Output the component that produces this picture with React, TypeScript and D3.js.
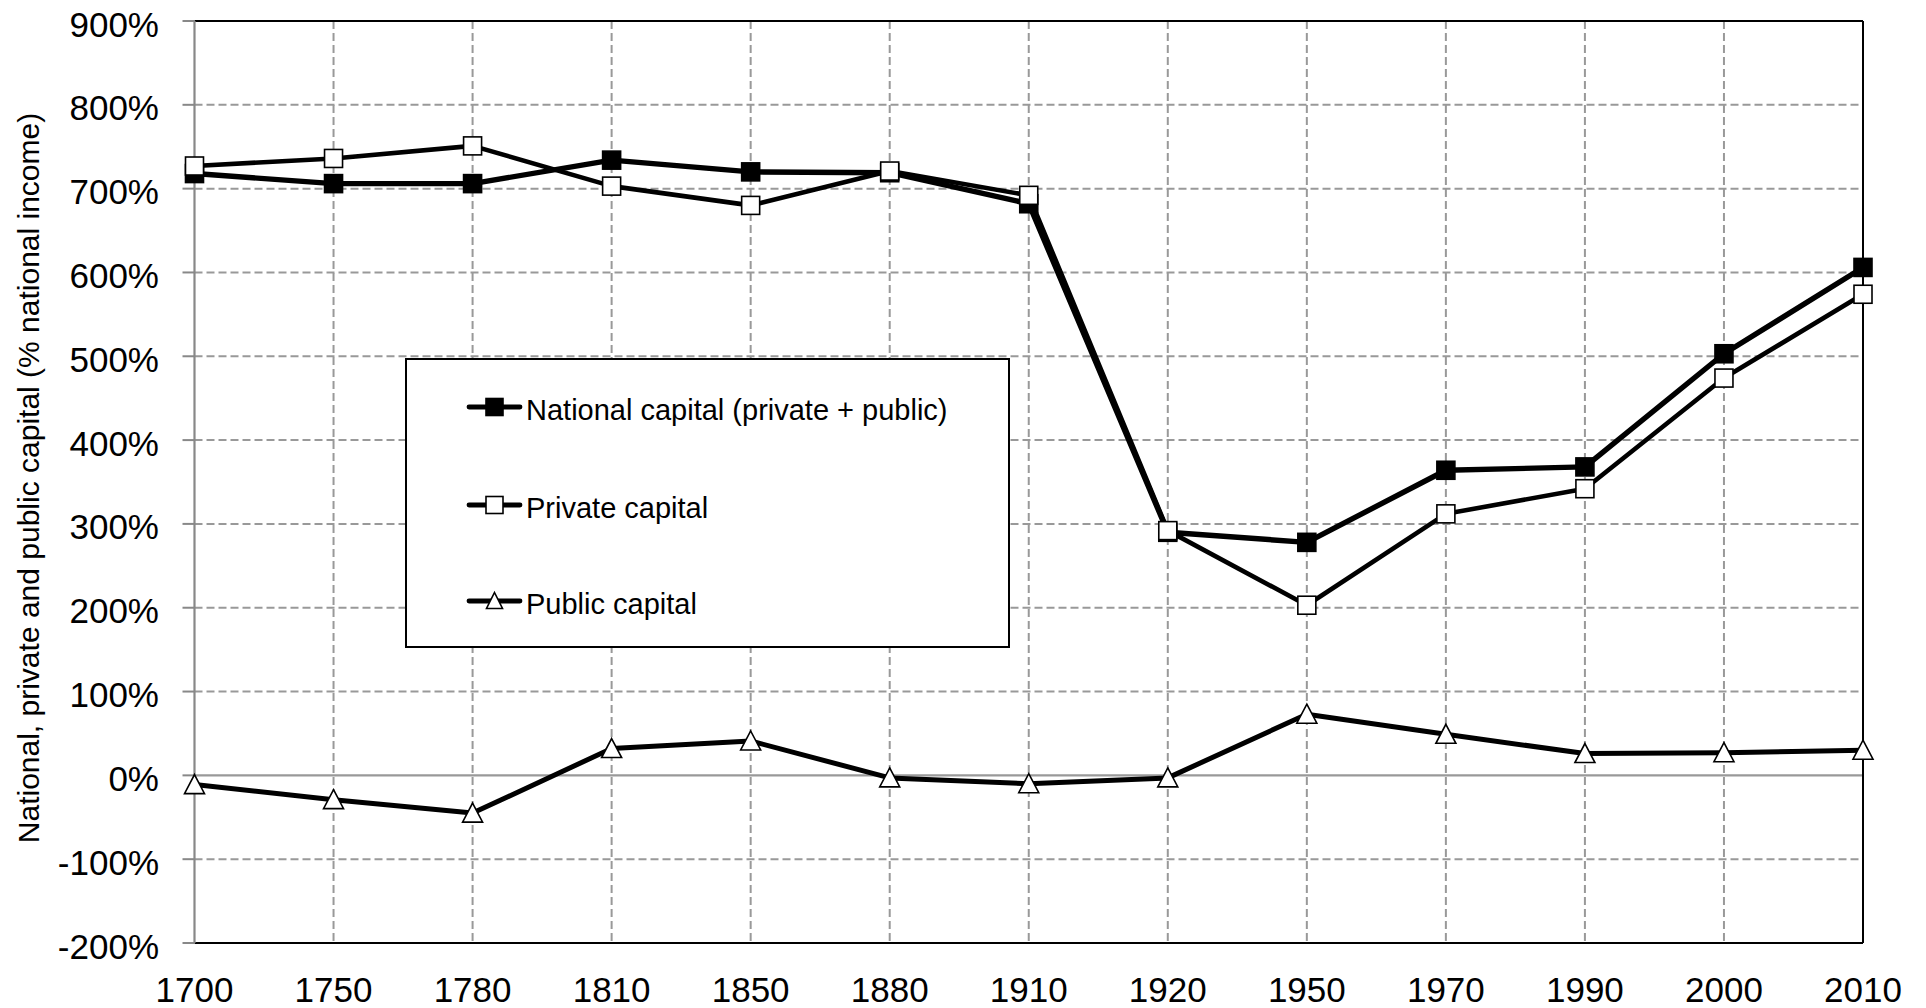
import React from "react";
import * as d3 from "d3";

const years = ["1700", "1750", "1780", "1810", "1850", "1880", "1910", "1920", "1950", "1970", "1990", "2000", "2010"];
const nationalCapital = [718, 706, 706, 734, 720, 719, 682, 290, 278, 364, 368, 503, 606];
const privateCapital = [727, 736, 751, 703, 680, 721, 692, 292, 203, 312, 342, 474, 574];
const publicCapital = [-11, -29, -45, 32, 41, -3, -10, -3, 73, 49, 26, 27, 30];
const yTicks = [-200, -100, 0, 100, 200, 300, 400, 500, 600, 700, 800, 900];
const legendLabels = ["National capital (private + public)", "Private capital", "Public capital"];
const yTitle = "National, private and public capital (% national income)";

const W = 1926;
const H = 1008;
const left = 194.5;
const right = 1863;
const top = 21;
const bottom = 943;
const FONT = "'Liberation Sans', Arial, sans-serif";
const GRID = "#999999";

function Square({ x, y, filled, size = 18 }: { x: number; y: number; filled: boolean; size?: number }) {
  return (
    <rect
      x={x - size / 2}
      y={y - size / 2}
      width={size}
      height={size}
      fill={filled ? "#000" : "#fff"}
      stroke="#000"
      strokeWidth={1.6}
    />
  );
}

function Triangle({ x, y, w = 20, h = 18 }: { x: number; y: number; w?: number; h?: number }) {
  const p = `${x},${y - h / 2 - 1} ${x + w / 2},${y + h / 2} ${x - w / 2},${y + h / 2}`;
  return <polygon points={p} fill="#fff" stroke="#000" strokeWidth={1.6} strokeLinejoin="miter" />;
}

export default function App() {
  const x = d3.scalePoint<string>().domain(years).range([left, right]);
  const y = d3.scaleLinear().domain([-200, 900]).range([bottom, top]);

  const line = d3
    .line<number>()
    .x((_, i) => x(years[i]) as number)
    .y((d) => y(d));

  const legendRows = [407, 505, 601];

  return (
    <svg
      width={W}
      height={H}
      style={{ position: "absolute", left: 0, top: 0, display: "block", background: "#fff" }}
      fontFamily={FONT}
    >
      <rect x={0} y={0} width={W} height={H} fill="#fff" />
      {/* horizontal gridlines */}
      {yTicks
        .filter((t) => t !== 0 && t !== 900 && t !== -200)
        .map((t) => (
          <line key={"h" + t} x1={left} x2={right} y1={y(t)} y2={y(t)} stroke={GRID} strokeWidth={2} strokeDasharray="8,4" />
        ))}
      {/* vertical gridlines */}
      {years.slice(1, -1).map((yr) => (
        <line
          key={"v" + yr}
          x1={x(yr)}
          x2={x(yr)}
          y1={top}
          y2={bottom}
          stroke={GRID}
          strokeWidth={2}
          strokeDasharray="8,4"
        />
      ))}
      {/* zero line */}
      <line x1={left} x2={right} y1={y(0)} y2={y(0)} stroke={GRID} strokeWidth={2.2} />
      {/* border */}
      <line x1={left} x2={right} y1={top} y2={top} stroke="#000" strokeWidth={2} />
      <line x1={left} x2={right} y1={bottom} y2={bottom} stroke="#000" strokeWidth={2} />
      <line x1={right} x2={right} y1={top} y2={bottom} stroke="#000" strokeWidth={2} />
      {/* y axis */}
      <line x1={left} x2={left} y1={top} y2={bottom} stroke="#888" strokeWidth={2.2} />
      {yTicks.map((t) => (
        <g key={"t" + t}>
          <line x1={left - 12} x2={left} y1={y(t)} y2={y(t)} stroke="#888" strokeWidth={2} />
          <text x={159} y={y(t) + 15.5} textAnchor="end" fontSize={35} fill="#000">
            {t + "%"}
          </text>
        </g>
      ))}
      {/* x labels */}
      {years.map((yr) => (
        <text key={"x" + yr} x={x(yr)} y={1002} textAnchor="middle" fontSize={35} fill="#000">
          {yr}
        </text>
      ))}
      {/* y title */}
      <text
        transform={`translate(39, 478) rotate(-90)`}
        textAnchor="middle"
        fontSize={30}
        fill="#000"
      >
        {yTitle}
      </text>

      {/* series lines */}
      <path d={line(publicCapital) || ""} fill="none" stroke="#000" strokeWidth={5} strokeLinejoin="round" />
      <path d={line(privateCapital) || ""} fill="none" stroke="#000" strokeWidth={4.6} strokeLinejoin="round" />
      <path d={line(nationalCapital) || ""} fill="none" stroke="#000" strokeWidth={5.4} strokeLinejoin="round" />

      {/* markers */}
      {nationalCapital.map((v, i) => (
        <Square key={"n" + i} x={x(years[i]) as number} y={y(v)} filled={true} />
      ))}
      {privateCapital.map((v, i) => (
        <Square key={"p" + i} x={x(years[i]) as number} y={y(v)} filled={false} />
      ))}
      {publicCapital.map((v, i) => (
        <Triangle key={"u" + i} x={x(years[i]) as number} y={y(v)} />
      ))}

      {/* legend */}
      <rect x={406} y={359} width={603} height={288} fill="#fff" stroke="#000" strokeWidth={2} />
      {legendLabels.map((lab, i) => {
        const cy = legendRows[i];
        return (
          <g key={"l" + i}>
            <line x1={469} x2={520} y1={cy} y2={cy} stroke="#000" strokeWidth={4.8} strokeLinecap="round" />
            {i === 0 && <Square x={494.5} y={cy} filled={true} size={17} />}
            {i === 1 && <Square x={494.5} y={cy} filled={false} size={17} />}
            {i === 2 && <Triangle x={494.5} y={cy} w={16} h={15} />}
            <text x={526} y={cy + 12.5} fontSize={29} fill="#000">
              {lab}
            </text>
          </g>
        );
      })}
    </svg>
  );
}
